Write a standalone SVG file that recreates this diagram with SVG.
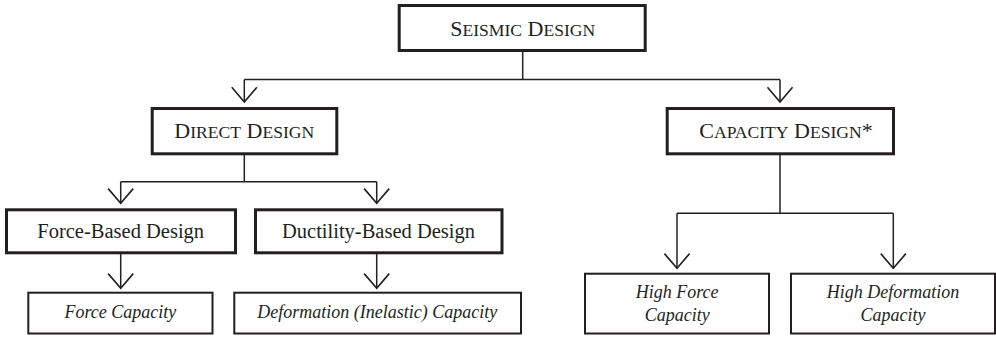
<svg xmlns="http://www.w3.org/2000/svg" width="996" height="337" viewBox="0 0 996 337">
<style>
.main{fill:#fff;stroke:#231f20;stroke-width:3}
.leaf{fill:#fff;stroke:#231f20;stroke-width:2}
.sc{font-family:"Liberation Serif","Times New Roman",serif;font-size:22px;fill:#231f20;text-anchor:middle}
.sc .s{font-size:17.6px}
.up{font-family:"Liberation Serif","Times New Roman",serif;font-size:20.5px;fill:#231f20;text-anchor:middle}
.it{font-family:"Liberation Serif","Times New Roman",serif;font-size:18px;font-style:italic;fill:#231f20;text-anchor:middle}
.conn path{fill:none;stroke:#231f20;stroke-width:1.5}
</style>
<defs>
<marker id="v" markerUnits="userSpaceOnUse" markerWidth="30" markerHeight="30" viewBox="-16 -14 18 28" refX="0" refY="0" orient="auto">
<path d="M-13.7,-11.7 L0,0 L-13.7,11.7" fill="none" stroke="#231f20" stroke-width="1.5"/>
</marker>
</defs>
<g id="connectors" class="conn">
<path d="M522.7 52 V79.5"/>
<path d="M244.3 79.5 H780"/>
<path d="M244.3 79.5 V102" marker-end="url(#v)"/>
<path d="M780 79.5 V102" marker-end="url(#v)"/>
<path d="M244.3 155 V181.7"/>
<path d="M120.7 181.7 H376.7"/>
<path d="M120.7 181.7 V203.3" marker-end="url(#v)"/>
<path d="M376.7 181.7 V203.3" marker-end="url(#v)"/>
<path d="M120.7 254 V288.3" marker-end="url(#v)"/>
<path d="M376.7 254 V288.3" marker-end="url(#v)"/>
<path d="M780 155 V213.3"/>
<path d="M677 213.3 H893.3"/>
<path d="M677 213.3 V268.3" marker-end="url(#v)"/>
<path d="M893.3 213.3 V268.3" marker-end="url(#v)"/>
</g>
<g id="seismic">
<rect class="main" x="399.2" y="5.5" width="246" height="45"/>
<text class="sc" x="522.7" y="36">S<tspan class="s">EISMIC</tspan> D<tspan class="s">ESIGN</tspan></text>
</g>
<g id="direct">
<rect class="main" x="152.2" y="108.5" width="184.6" height="45.3"/>
<text class="sc" x="244.3" y="137.7">D<tspan class="s">IRECT</tspan> D<tspan class="s">ESIGN</tspan></text>
</g>
<g id="capacity">
<rect class="main" x="667.2" y="108.5" width="226.3" height="45.3"/>
<text class="sc" x="786" y="137.7">C<tspan class="s">APACITY</tspan> D<tspan class="s">ESIGN</tspan>*</text>
</g>
<g id="force-based">
<rect class="main" x="6.5" y="209.8" width="229" height="43"/>
<text class="up" x="120.7" y="238.3">Force-Based Design</text>
</g>
<g id="ductility-based">
<rect class="main" x="255.5" y="209.8" width="246.5" height="43"/>
<text class="up" x="378.5" y="238.3">Ductility-Based Design</text>
</g>
<g id="force-capacity">
<rect class="leaf" x="28.3" y="292.7" width="184.2" height="40.8"/>
<text class="it" x="120.4" y="318.3">Force Capacity</text>
</g>
<g id="deformation-capacity">
<rect class="leaf" x="234.3" y="292.7" width="286.7" height="40.8"/>
<text class="it" x="377.3" y="318.3">Deformation (Inelastic) Capacity</text>
</g>
<g id="high-force">
<rect class="leaf" x="585" y="273.7" width="184" height="59.8"/>
<text class="it" x="677.2" y="298">High Force</text>
<text class="it" x="677.2" y="320.7">Capacity</text>
</g>
<g id="high-deformation">
<rect class="leaf" x="791" y="273.7" width="204" height="59.8"/>
<text class="it" x="893" y="298">High Deformation</text>
<text class="it" x="893" y="320.7">Capacity</text>
</g>
</svg>
